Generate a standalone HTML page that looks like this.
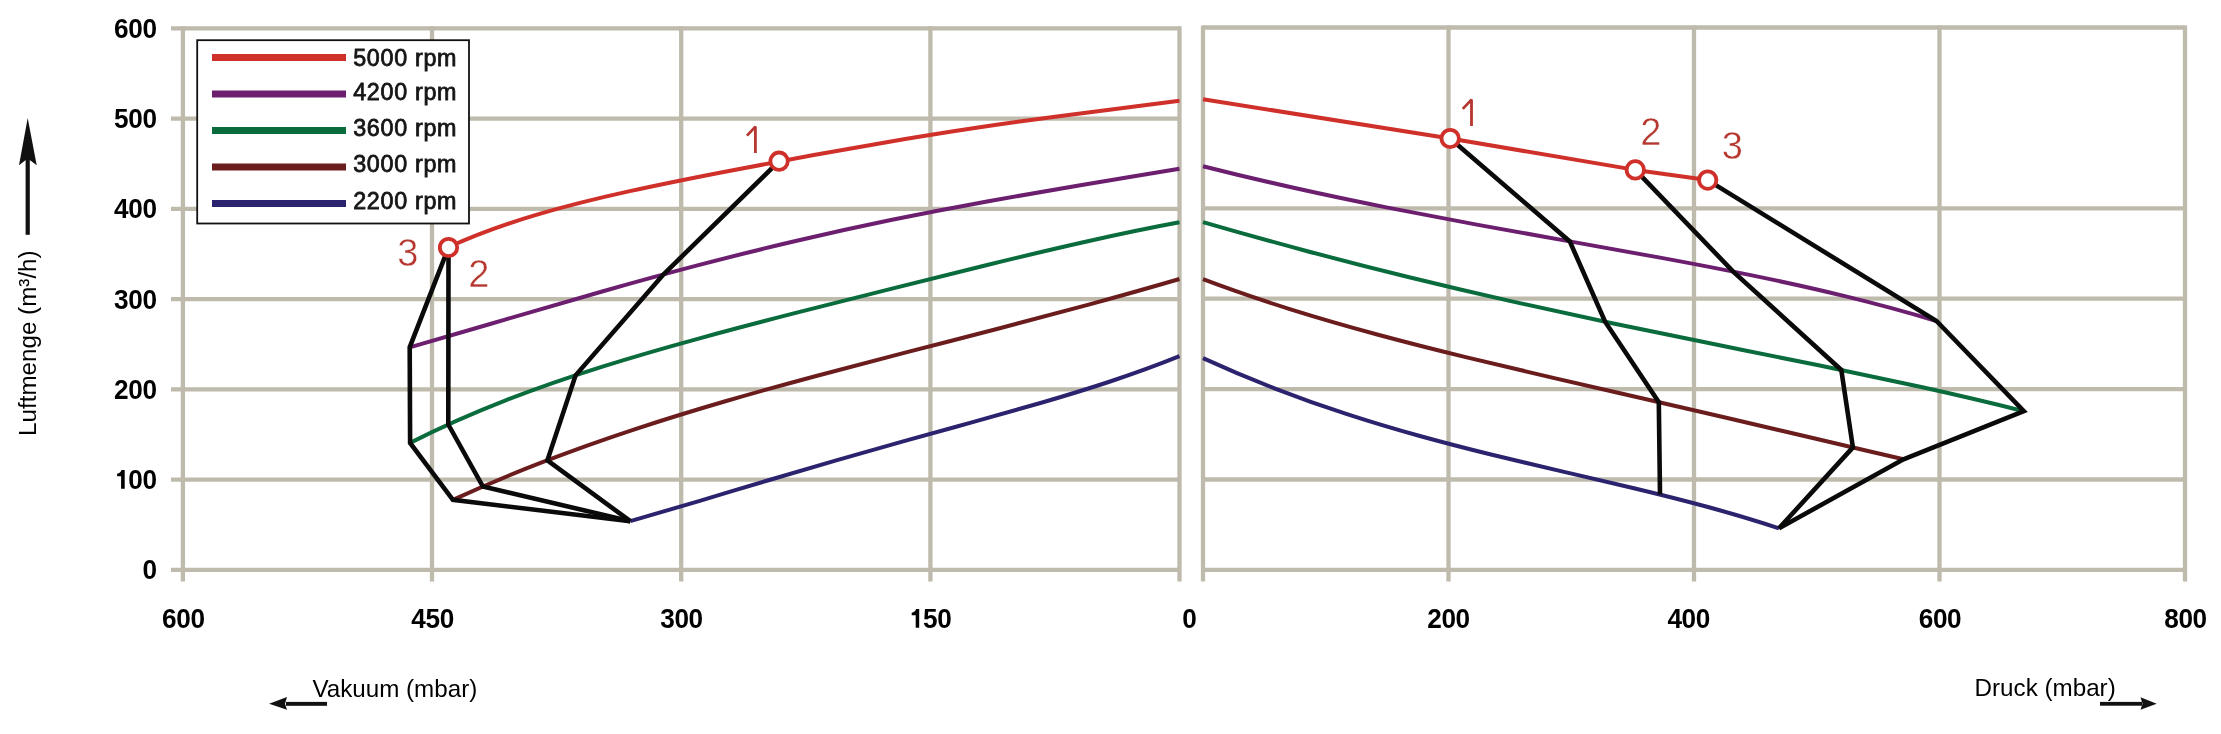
<!DOCTYPE html>
<html><head><meta charset="utf-8"><title>Luftmenge Diagramm</title>
<style>html,body{margin:0;padding:0;background:#fff;width:2221px;height:734px;overflow:hidden;font-family:"Liberation Sans",sans-serif}svg{display:block;will-change:transform}</style>
</head><body><svg width="2221" height="734" viewBox="0 0 2221 734"><g stroke="#bebaac" stroke-width="4.3" fill="none"><line x1="171" y1="28.4" x2="1179.5" y2="28.4"/><line x1="171" y1="118.6" x2="1179.5" y2="118.6"/><line x1="171" y1="208.9" x2="1179.5" y2="208.9"/><line x1="171" y1="299.1" x2="1179.5" y2="299.1"/><line x1="171" y1="389.4" x2="1179.5" y2="389.4"/><line x1="171" y1="479.6" x2="1179.5" y2="479.6"/><line x1="171" y1="569.9" x2="1179.5" y2="569.9"/><line x1="182.9" y1="26.2" x2="182.9" y2="581.5"/><line x1="432.0" y1="26.2" x2="432.0" y2="581.5"/><line x1="681.2" y1="26.2" x2="681.2" y2="581.5"/><line x1="930.4" y1="26.2" x2="930.4" y2="581.5"/><line x1="1179.5" y1="26.2" x2="1179.5" y2="581.5"/><line x1="1203.0" y1="27.5" x2="2185.0" y2="27.5"/><line x1="1203.0" y1="208.3" x2="2185.0" y2="208.3"/><line x1="1203.0" y1="298.7" x2="2185.0" y2="298.7"/><line x1="1203.0" y1="389.1" x2="2185.0" y2="389.1"/><line x1="1203.0" y1="479.5" x2="2185.0" y2="479.5"/><line x1="1203.0" y1="569.9" x2="2185.0" y2="569.9"/><line x1="1203.0" y1="25.4" x2="1203.0" y2="581.5"/><line x1="1448.5" y1="25.4" x2="1448.5" y2="581.5"/><line x1="1694.0" y1="25.4" x2="1694.0" y2="581.5"/><line x1="1939.5" y1="25.4" x2="1939.5" y2="581.5"/><line x1="2185.0" y1="25.4" x2="2185.0" y2="581.5"/></g><g fill="none" stroke-width="4" stroke-linejoin="round" stroke-linecap="butt"><path d="M448.10,247.30 C478.57,233.35 509.05,222.80 539.52,213.86 C570.00,204.92 600.48,197.60 630.95,190.88 C661.43,184.17 691.90,178.07 722.38,172.17 C752.85,166.27 783.32,160.58 813.80,155.04 C844.27,149.50 874.75,144.14 905.23,139.05 C935.70,133.97 966.17,129.18 996.65,124.75 C1027.12,120.33 1057.60,116.28 1088.08,112.42 C1118.55,108.56 1149.03,104.91 1179.50,100.80" stroke="#d0302a"/><path d="M409.70,347.30 C441.77,338.15 473.85,328.72 505.92,319.33 C538.00,309.94 570.07,300.59 602.15,291.50 C634.23,282.42 666.30,273.60 698.38,265.19 C730.45,256.78 762.52,248.78 794.60,241.25 C826.67,233.71 858.75,226.65 890.83,220.03 C922.90,213.42 954.98,207.24 987.05,201.41 C1019.12,195.57 1051.20,190.07 1083.27,184.71 C1115.35,179.36 1147.42,174.14 1179.50,168.80" stroke="#6c1f6e"/><path d="M410.10,442.90 C442.16,426.56 474.22,412.57 506.28,400.10 C538.33,387.63 570.39,376.69 602.45,366.61 C634.51,356.54 666.57,347.34 698.62,338.56 C730.68,329.78 762.74,321.41 794.80,313.18 C826.86,304.96 858.92,296.87 890.98,288.84 C923.03,280.81 955.09,272.83 987.15,265.01 C1019.21,257.18 1051.27,249.50 1083.33,242.26 C1115.38,235.02 1147.44,228.21 1179.50,222.30" stroke="#0a6b3c"/><path d="M452.90,499.90 C483.18,486.01 513.45,473.37 543.73,461.71 C574.00,450.04 604.27,439.35 634.55,429.36 C664.82,419.37 695.10,410.08 725.38,401.25 C755.65,392.43 785.93,384.07 816.20,375.95 C846.48,367.83 876.75,359.96 907.02,352.15 C937.30,344.33 967.58,336.57 997.85,328.70 C1028.12,320.82 1058.40,312.84 1088.67,304.60 C1118.95,296.36 1149.22,287.86 1179.50,279.00" stroke="#6b1d1e"/><path d="M630.30,521.20 C653.18,514.70 676.07,507.91 698.95,501.06 C721.83,494.22 744.72,487.31 767.60,480.49 C790.48,473.68 813.37,466.95 836.25,460.35 C859.13,453.75 882.02,447.29 904.90,440.91 C927.78,434.54 950.67,428.25 973.55,421.91 C996.43,415.57 1019.32,409.18 1042.20,402.50 C1065.08,395.82 1087.97,388.84 1110.85,381.25 C1133.73,373.66 1156.62,365.45 1179.50,356.20" stroke="#2c236e"/><path d="M1203.00,166.20 C1233.56,173.94 1264.12,181.19 1294.69,188.03 C1325.25,194.86 1355.81,201.27 1386.38,207.38 C1416.94,213.48 1447.50,219.26 1478.06,224.88 C1508.62,230.49 1539.19,235.93 1569.75,241.37 C1600.31,246.81 1630.88,252.24 1661.44,257.88 C1692.00,263.52 1722.56,269.37 1753.12,275.66 C1783.69,281.95 1814.25,288.69 1844.81,296.15 C1875.38,303.61 1905.94,311.79 1936.50,321.00" stroke="#6c1f6e"/><path d="M1203.00,222.10 C1237.20,232.01 1271.40,241.56 1305.60,250.72 C1339.80,259.88 1374.00,268.65 1408.20,277.04 C1442.40,285.44 1476.60,293.46 1510.80,301.16 C1545.00,308.87 1579.20,316.26 1613.40,323.44 C1647.60,330.62 1681.80,337.60 1716.00,344.52 C1750.20,351.44 1784.40,358.31 1818.60,365.33 C1852.80,372.34 1887.00,379.50 1921.20,387.06 C1955.40,394.61 1989.60,402.56 2023.80,411.20" stroke="#0a6b3c"/><path d="M1203.00,279.20 C1232.19,290.26 1261.38,300.18 1290.56,309.32 C1319.75,318.46 1348.94,326.82 1378.12,334.70 C1407.31,342.57 1436.50,349.96 1465.69,357.09 C1494.88,364.22 1524.06,371.10 1553.25,377.88 C1582.44,384.66 1611.62,391.36 1640.81,398.06 C1670.00,404.77 1699.19,411.49 1728.38,418.26 C1757.56,425.04 1786.75,431.86 1815.94,438.72 C1845.12,445.58 1874.31,452.47 1903.50,459.30" stroke="#6b1d1e"/><path d="M1203.00,358.10 C1227.00,369.12 1251.00,379.22 1275.00,388.52 C1299.00,397.82 1323.00,406.31 1347.00,414.14 C1371.00,421.96 1395.00,429.12 1419.00,435.79 C1443.00,442.46 1467.00,448.64 1491.00,454.54 C1515.00,460.43 1539.00,466.04 1563.00,471.61 C1587.00,477.17 1611.00,482.70 1635.00,488.45 C1659.00,494.21 1683.00,500.20 1707.00,506.73 C1731.00,513.27 1755.00,520.34 1779.00,528.30" stroke="#2c236e"/><path d="M1203.0,99.2 L1450.2,138.5 L1635.3,169.9 L1707.7,180.1" stroke="#d0302a"/></g><g fill="none" stroke="#0a0a0a" stroke-width="4.6" stroke-linejoin="miter" stroke-miterlimit="3"><path d="M779.1,161.2 L663.4,274.5 L575.6,375.3 L547.4,460.3 L630.3,521.2"/><path d="M448.5,247.5 L448.3,424.5 L482.9,486.5 L630.3,521.2"/><path d="M448.5,247.5 L409.7,347.3 L410.1,442.9 L452.9,499.9 L630.3,521.2"/><path d="M1450.2,138.5 L1569.8,241.4 L1605.1,321.7 L1658.8,402.2 L1660.0,494.5"/><path d="M1635.3,169.9 L1733.2,271.6 L1841.3,370.0 L1852.9,447.4 L1779.0,528.3"/><path d="M1707.7,180.1 L1936.5,321.0 L2023.8,411.2 L1903.5,459.3 L1779.0,528.3"/></g><g fill="#fff" stroke="#d0302a" stroke-width="3.8"><circle cx="448.5" cy="247.5" r="8.7"/><circle cx="779.1" cy="161.2" r="8.7"/><circle cx="1450.2" cy="138.5" r="8.7"/><circle cx="1635.3" cy="169.9" r="8.7"/><circle cx="1707.7" cy="180.1" r="8.7"/></g><g font-family="Liberation Sans, sans-serif" font-size="38.0" fill="#b5372f" stroke="#fff" stroke-width="0.45"><text x="397.3" y="266.0">3</text><text x="468.3" y="287.1">2</text><text x="1640.3" y="144.7">2</text><text x="1721.7" y="158.8">3</text></g><g fill="none" stroke="#b5372f" stroke-width="2.8" stroke-linejoin="bevel"><path d="M747.0,135.6 L755.4,126.6 L755.4,153.0"/><path d="M1462.8,108.9 L1471.5,99.6 L1471.5,125.9"/></g><rect x="197.2" y="40.2" width="271.8" height="183.3" fill="#fff" stroke="#111" stroke-width="1.8"/><g font-family="Liberation Sans, sans-serif" font-size="23.3" fill="#151515" stroke="#151515" stroke-width="0.8" letter-spacing="0.7"><line x1="212" y1="57.4" x2="346" y2="57.4" stroke="#d0302a" stroke-width="7"/><text x="353.2" y="66.1">5000 rpm</text><line x1="212" y1="94.0" x2="346" y2="94.0" stroke="#6c1f6e" stroke-width="7"/><text x="353.2" y="99.5">4200 rpm</text><line x1="212" y1="130.5" x2="346" y2="130.5" stroke="#0a6b3c" stroke-width="7"/><text x="353.2" y="136.2">3600 rpm</text><line x1="212" y1="166.9" x2="346" y2="166.9" stroke="#6b1d1e" stroke-width="7"/><text x="353.2" y="172.2">3000 rpm</text><line x1="212" y1="203.5" x2="346" y2="203.5" stroke="#2c236e" stroke-width="7"/><text x="353.2" y="209.1">2200 rpm</text></g><g font-family="Liberation Sans, sans-serif" font-weight="bold" font-size="27.6" fill="#000" letter-spacing="-0.4"><text transform="translate(156.60,37.75) scale(0.950,1)" text-anchor="end">600</text><text transform="translate(156.60,127.95) scale(0.950,1)" text-anchor="end">500</text><text transform="translate(156.60,218.25) scale(0.950,1)" text-anchor="end">400</text><text transform="translate(156.60,308.50) scale(0.950,1)" text-anchor="end">300</text><text transform="translate(156.60,398.80) scale(0.950,1)" text-anchor="end">200</text><text transform="translate(156.60,488.80) scale(0.950,1)" text-anchor="end">00</text><text transform="translate(156.60,579.40) scale(0.950,1)" text-anchor="end">0</text><text transform="translate(183.40,627.70) scale(0.950,1)" text-anchor="middle">600</text><text transform="translate(432.60,627.70) scale(0.950,1)" text-anchor="middle">450</text><text transform="translate(681.50,627.70) scale(0.950,1)" text-anchor="middle">300</text><text transform="translate(1189.40,627.70) scale(0.950,1)" text-anchor="middle">0</text><text transform="translate(1448.50,627.70) scale(0.950,1)" text-anchor="middle">200</text><text transform="translate(1688.70,627.70) scale(0.950,1)" text-anchor="middle">400</text><text transform="translate(1940.00,627.70) scale(0.950,1)" text-anchor="middle">600</text><text transform="translate(2185.50,627.70) scale(0.950,1)" text-anchor="middle">800</text><text transform="translate(951.40,627.70) scale(0.950,1)" text-anchor="end">50</text><path d="M124.70,470.10 L124.70,488.80 L121.10,488.80 L121.10,476.30 L117.10,476.30 L117.10,473.80 Q120.50,473.40 121.50,470.10 Z"/><path d="M919.20,609.00 L919.20,627.70 L915.70,627.70 L915.70,615.20 L911.70,615.20 L911.70,612.70 Q915.10,612.30 916.10,609.00 Z"/></g><text x="312.4" y="696.6" font-family="Liberation Sans, sans-serif" font-size="24.2" fill="#000">Vakuum (mbar)</text><text x="1974.6" y="695.9" font-family="Liberation Sans, sans-serif" font-size="24.2" fill="#000">Druck (mbar)</text><text transform="translate(35.9,435.9) rotate(-90)" font-family="Liberation Sans, sans-serif" font-size="24.2" fill="#000">Luftmenge (m³/h)</text><g fill="#111" stroke="none"><rect x="286" y="701.9" width="41" height="3.9"/><path d="M269.1,703.8 L287,696.9 L285,703.8 L287,709.8 Z"/><rect x="2100" y="701.9" width="42" height="3.8"/><path d="M2156.7,703.8 L2140.5,697.3 L2142.5,703.8 L2140.5,709.8 Z"/><rect x="25.6" y="158" width="4.2" height="76.8"/><path d="M27.7,118 L36.7,165.2 L27.7,158.6 L19,165.2 Z"/></g></svg></body></html>
